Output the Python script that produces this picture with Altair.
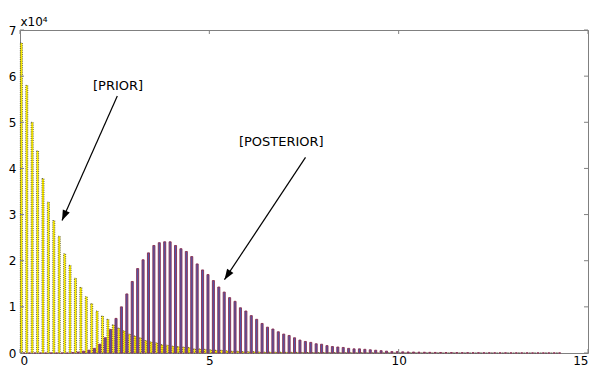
import math
import altair as alt
import pandas as pd

# ---- data (counts in units of 1e4), 100 bins of width 1/7 ----
bin_width = 1.0 / 7.0
prior = [6.72, 5.80, 5.00, 4.38, 3.78, 3.27, 2.87, 2.53, 2.15, 1.90,
         1.62, 1.42, 1.22, 1.07, 0.91, 0.80, 0.73, 0.61, 0.54, 0.48,
         0.41, 0.37, 0.33, 0.27, 0.24, 0.22, 0.18, 0.17, 0.15, 0.14,
         0.13, 0.12, 0.09, 0.09, 0.08, 0.07, 0.06, 0.06, 0.05, 0.04,
         0.04, 0.03, 0.03, 0.03, 0.025, 0.02, 0.02, 0.02, 0.018, 0.016,
         0.015, 0.014, 0.012, 0.011, 0.01, 0.01, 0.009, 0.009, 0.008, 0.008,
         0.007, 0.007, 0.006, 0.006, 0.006, 0.005, 0.005, 0.005, 0.005, 0.004,
         0.004, 0.004, 0.004, 0.004, 0.003, 0.003, 0.003, 0.003, 0.003, 0.003,
         0.003, 0.003, 0.002, 0.002, 0.002, 0.002, 0.002, 0.002, 0.002, 0.002,
         0.002, 0.002, 0.002, 0.002, 0.002, 0.002, 0.002, 0.002, 0.002, 0.002]
posterior = [0, 0, 0, 0, 0, 0, 0, 0, 0, 0.01,
             0.02, 0.04, 0.06, 0.10, 0.19, 0.33, 0.51, 0.75, 1.00, 1.28,
             1.55, 1.83, 2.02, 2.17, 2.33, 2.39, 2.41, 2.41, 2.33, 2.26,
             2.20, 2.09, 1.93, 1.80, 1.70, 1.57, 1.43, 1.32, 1.20, 1.12,
             0.98, 0.91, 0.81, 0.73, 0.64, 0.56, 0.52, 0.46, 0.41, 0.38,
             0.33, 0.28, 0.25, 0.23, 0.20, 0.19, 0.16, 0.14, 0.13, 0.12,
             0.10, 0.09, 0.09, 0.08, 0.07, 0.06, 0.05, 0.04, 0.03, 0.03,
             0.025, 0.022, 0.02, 0.018, 0.016, 0.014, 0.012, 0.011, 0.01, 0.009,
             0.008, 0.007, 0.007, 0.006, 0.006, 0.005, 0.005, 0.004, 0.004, 0.004,
             0.003, 0.003, 0.003, 0.003, 0.002, 0.002, 0.002, 0.002, 0.002, 0.002]

x_ticks = [0, 5, 10, 15]
y_ticks = [0, 1, 2, 3, 4, 5, 6, 7]

labels = ["[PRIOR]", "[POSTERIOR]"]
label_x = [2.59, 6.90]
label_y = [5.78, 4.57]
arrow_x1 = [2.57, 7.54]
arrow_y1 = [5.57, 4.24]
arrow_x2 = [1.11, 5.40]
arrow_y2 = [2.87, 1.59]

W, H = 568, 323
XMAX, YMAX = 15, 7
BAR_FRAC = 0.38  # fraction of bin width per bar (grouped bars)

# ---- tables ----
rows = []
for i, (p, q) in enumerate(zip(prior, posterior)):
    c = (i + 0.5) * bin_width
    lc, rc = c - bin_width / 4, c + bin_width / 4
    hw = bin_width * BAR_FRAC / 2
    rows.append({"x0": lc - hw, "x1": lc + hw, "v": p, "s": "prior"})
    rows.append({"x0": rc - hw, "x1": rc + hw, "v": q, "s": "posterior"})
bars = pd.DataFrame(rows)

ann = pd.DataFrame({"label": labels, "lx": label_x, "ly": label_y,
                    "x1": arrow_x1, "y1": arrow_y1, "x2": arrow_x2, "y2": arrow_y2})
angles = []
for a, b, c, d in zip(arrow_x1, arrow_y1, arrow_x2, arrow_y2):
    dx = (c - a) * W / XMAX
    dy = -(d - b) * H / YMAX
    angles.append(math.degrees(math.atan2(dx, -dy)) % 360)
ann["angle"] = angles

xs = alt.Scale(domain=[0, XMAX], nice=False, zero=False)
ys = alt.Scale(domain=[0, YMAX], nice=False, zero=False)

x_axis = alt.Axis(values=x_ticks, format="d", labelPadding=2, title=None)
y_axis = alt.Axis(values=y_ticks, format="d", labelPadding=4, title="x10⁴",
                  titleAngle=0, titleX=0, titleY=-2, titleAlign="left",
                  titleBaseline="bottom", titleFontWeight="normal", titleFontSize=12,
                  titleFont="DejaVu Sans", titleColor="black")

base = alt.Chart(bars)
prior_bars = base.transform_filter(alt.datum.s == "prior").mark_bar(
    color="#fff000", stroke="#222222", strokeWidth=0.7, strokeDash=[1, 1.2]
).encode(
    x=alt.X("x0:Q", scale=xs, axis=x_axis), x2="x1:Q",
    y=alt.Y("v:Q", scale=ys, axis=y_axis), y2=alt.datum(0),
)
post_bars = base.transform_filter(alt.datum.s == "posterior").mark_bar(
    color="#4f58aa", stroke="#8a2d4e", strokeWidth=0.9
).encode(
    x=alt.X("x0:Q", scale=xs), x2="x1:Q",
    y=alt.Y("v:Q", scale=ys), y2=alt.datum(0),
)

yt = alt.Chart(pd.DataFrame({"t": y_ticks}))
xt = alt.Chart(pd.DataFrame({"t": x_ticks}))
tick_color = "#808080"
ticks = [
    yt.mark_rule(color=tick_color).encode(y=alt.Y("t:Q", scale=ys), x=alt.value(0), x2=alt.value(4)),
    yt.mark_rule(color=tick_color).encode(y=alt.Y("t:Q", scale=ys), x=alt.value(W - 4), x2=alt.value(W)),
    xt.mark_rule(color=tick_color).encode(x=alt.X("t:Q", scale=xs), y=alt.value(H - 4), y2=alt.value(H)),
    xt.mark_rule(color=tick_color).encode(x=alt.X("t:Q", scale=xs), y=alt.value(0), y2=alt.value(4)),
]

ac = alt.Chart(ann)
arrows = ac.mark_rule(color="black", strokeWidth=1.2).encode(
    x=alt.X("x1:Q", scale=xs), y=alt.Y("y1:Q", scale=ys), x2="x2:Q", y2="y2:Q")
heads = ac.mark_point(shape="M0,0L0.36,1L-0.36,1Z", filled=True, color="black",
                      opacity=1, size=440).encode(
    x=alt.X("x2:Q", scale=xs), y=alt.Y("y2:Q", scale=ys),
    angle=alt.Angle("angle:Q", scale=None))
texts = ac.mark_text(font="DejaVu Sans", fontSize=13, color="black").encode(
    x=alt.X("lx:Q", scale=xs), y=alt.Y("ly:Q", scale=ys), text="label:N")

chart = alt.layer(prior_bars, post_bars, *ticks, arrows, heads, texts).properties(
    width=W, height=H,
    autosize=alt.AutoSizeParams(type="none"),
    padding={"left": 12, "top": 22, "right": 2, "bottom": 16},
).configure_view(stroke="#808080", strokeWidth=1).configure_axis(
    domain=False, ticks=False, grid=False,
    labelFont="DejaVu Sans", labelFontSize=12, labelColor="black",
)

chart.save("out.html", embed_options={"renderer": "svg", "actions": False})
